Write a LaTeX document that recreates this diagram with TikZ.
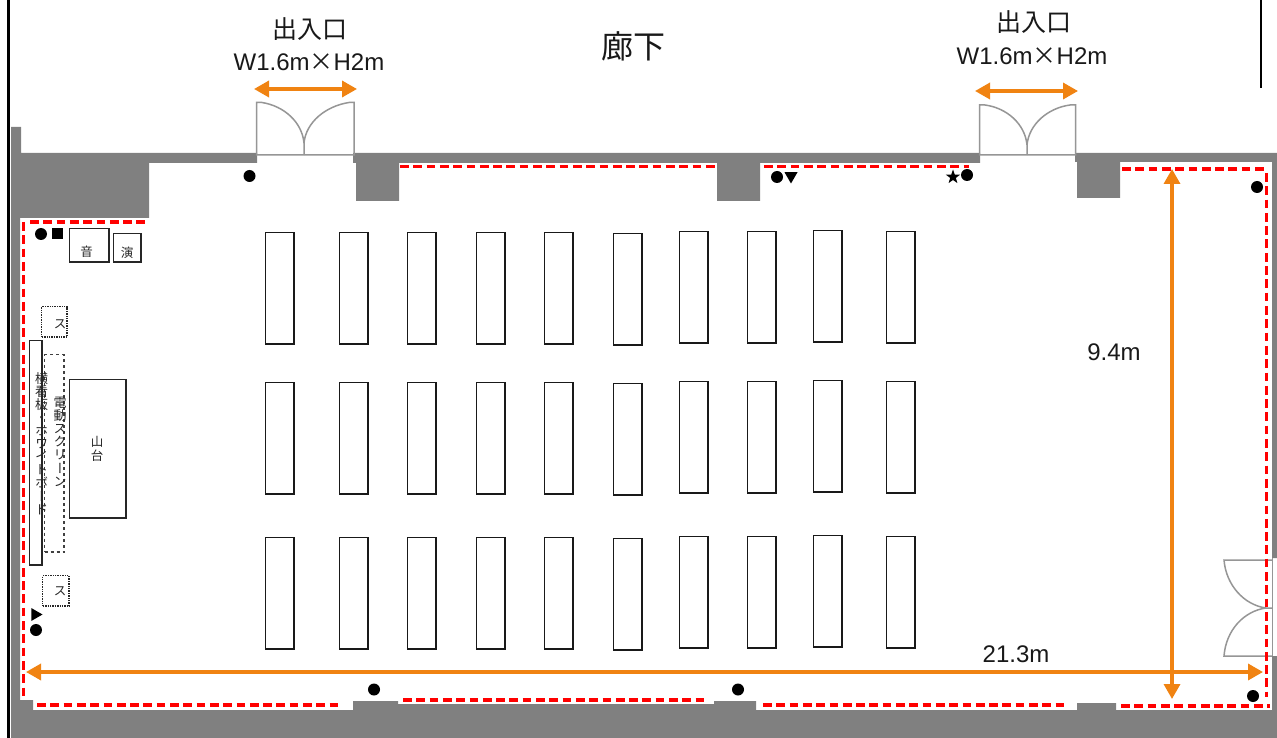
\documentclass[tikz,border=0pt]{standalone}
\usepackage{fontspec}
\setmainfont{Liberation Sans}
\newfontfamily\jpfont{Noto Sans CJK JP}
\newfontfamily\jpvert[RawFeature=+vert]{Noto Sans CJK JP}
\usetikzlibrary{arrows.meta}
\usetikzlibrary{shapes.geometric}
\definecolor{wallgray}{HTML}{808080}
\definecolor{doorgray}{HTML}{969696}
\definecolor{dimorange}{HTML}{F08312}

\begin{document}
\begin{tikzpicture}[x=1pt,y=-1pt,
    >={Triangle[width=16pt,length=15pt]},
    wall/.style = {fill=wallgray, draw=none},
    door/.style = {draw=doorgray, line width=1.5pt},
    outlet/.style = {draw=red, line width=3.4pt, dash pattern=on 8.7pt off 4.6pt},
    dim/.style = {draw=dimorange, line width=3.4pt, <->},
    desk/.style = {rectangle, draw=black!90, line width=1.4pt, fill=white,
                   minimum width=28.4pt, minimum height=111.4pt, inner sep=0pt},
    fitting/.style = {rectangle, draw=black!85, line width=1.4pt, fill=white, inner sep=0pt},
    dim label/.style = {font=\fontsize{24}{29}\selectfont, text=black!90, inner sep=0pt},
    small label/.style = {font=\jpfont\fontsize{12.5}{14}\selectfont, text=black!85, inner sep=0pt, align=center},
    stack label/.style = {font=\jpvert\fontsize{13}{13.1}\selectfont, text=black!85, inner sep=0pt, align=center},
    dot/.style = {circle, fill=black, minimum size=12pt, inner sep=0pt}]
  \useasboundingbox (0,0) rectangle (1277,738);
  \fill[white] (0,0) rectangle (1277,738);

  % walls
  \fill[wall] (11,127) -- (21,127) -- (21,153) -- (257,153) -- (257,163) -- (149,163)
    -- (149,218) -- (20,218) -- (20,700) -- (33,700) -- (33,710) -- (353,710) -- (353,701)
    -- (398,701) -- (398,704) -- (714,704) -- (714,701) -- (756,701) -- (756,710)
    -- (1077,710) -- (1077,703) -- (1116,703) -- (1116,710) -- (1272,710) -- (1272,656)
    -- (1277,656) -- (1277,738) -- (11,738) -- cycle;
  \fill[wall] (353,153) -- (980,153) -- (980,163) -- (760,163) -- (760,201) -- (717,201)
    -- (717,163) -- (399,163) -- (399,201) -- (356,201) -- (356,163) -- (353,163) -- cycle;
  \fill[wall] (1075,153) -- (1277,153) -- (1277,558) -- (1272,558) -- (1272,162)
    -- (1120,162) -- (1120,198) -- (1077,198) -- (1077,162) -- (1075,162) -- cycle;
  \draw[black, line width=2.6pt] (8.5,0) -- (8.5,738);
  \draw[black, line width=2pt] (1261,0) -- (1261,88);

  % doors
  \draw[door] (304,155) -- (256.5,155) -- (256.5,102.5) -- (262,102.5)
    .. controls (284,106) and (302,122) .. (304,143) -- (304,155);
  \draw[door] (304,155) -- (354,155) -- (354,102.5) -- (349,102.5)
    .. controls (326,106) and (306,122) .. (304,143);
  \draw[door] (1027,155) -- (979.5,155) -- (979.5,105) -- (985,105)
    .. controls (1007,108) and (1025,124) .. (1027,145) -- (1027,155);
  \draw[door] (1027,155) -- (1075.5,155) -- (1075.5,105) -- (1070,105)
    .. controls (1048,108) and (1029,124) .. (1027,145);
  \draw[door] (1272,560) -- (1224,560) .. controls (1226,585) and (1244,605) .. (1266,608) -- (1272,608);
  \draw[door] (1272,656) -- (1224,656) .. controls (1226,630) and (1244,611) .. (1266,608);
  \draw[door] (1272.5,558) -- (1272.5,656);

  % desks
  \foreach \row/\ytop in {1/232,2/382,3/537}
    \foreach \col/\xleft/\yoff in {1/265/0,2/339/0,3/407/0,4/476/0,5/544/0,
                                   6/613/1,7/679/-1,8/747/-1,9/813/-2,10/886/-1}
      \node (desk\row-\col) [desk, anchor=north west] at (\xleft,\ytop+\yoff) {};

  % front of the room
  \node (sound) [fitting, minimum width=39.4pt, minimum height=33.4pt, anchor=north west] at (69,228) {};
  \node [small label] at (86.5,252) {音};
  \node (perform) [fitting, minimum width=27.4pt, minimum height=28.4pt, anchor=north west] at (113,233) {};
  \node [small label] at (127,253) {演};
  \node (spkupper) [fitting, densely dotted, minimum width=25.4pt, minimum height=30.4pt, anchor=north west] at (41,306) {};
  \node [small label] at (60,324) {ス};
  \node (spklower) [fitting, densely dotted, minimum width=26.4pt, minimum height=30.4pt, anchor=north west] at (42,575) {};
  \node [small label] at (60,591) {ス};
  \node (board) [fitting, minimum width=12.4pt, minimum height=224.4pt, anchor=north west] at (29,340) {};
  \node (screen) [fitting, dashed, fill=none, draw=black!75, minimum width=19.4pt, minimum height=197.4pt, anchor=north west] at (44,354) {};
  \node (stage) [fitting, minimum width=56.4pt, minimum height=138.4pt, anchor=north west] at (69,379) {};
  \node [stack label, anchor=north] at (41.5,372) {横\\看\\板\\・\\ホ\\ワ\\イ\\ト\\ボ\\ー\\ド};
  \node [stack label, anchor=north] at (60,397) {電\\動\\ス\\ク\\リ\\ー\\ン};
  \node [small label] at (97,449) {山\\台};

  % power outlets
  \draw[outlet] (30,222) -- (146,222);
  \draw[outlet] (23.5,222) -- (23.5,697);
  \draw[outlet] (37,705) -- (341,705);
  \draw[outlet] (403,700) -- (706,700);
  \draw[outlet] (763,705) -- (1066,705);
  \draw[outlet] (1121,706) -- (1270,706);
  \draw[outlet] (400,166.5) -- (716,166.5);
  \draw[outlet] (764,166.5) -- (969,166.5);
  \draw[outlet] (1122,169) -- (1264,169);
  \draw[outlet] (1266.5,173) -- (1266.5,697);

  % marks
  \node (dotA) [dot] at (249.5,176) {};
  \node (dotB) [dot] at (777,177) {};
  \node (dotC) [dot] at (967,175) {};
  \node (dotD) [dot] at (1257,187) {};
  \node (dotE) [dot] at (41,234) {};
  \node (dotF) [dot] at (36,630) {};
  \node (dotG) [dot] at (374,689.5) {};
  \node (dotH) [dot] at (738,689.5) {};
  \node (dotI) [dot] at (1253,696) {};
  \node (square) [rectangle, fill=black, minimum size=11pt, inner sep=0pt] at (57.5,234) {};
  \node (trileft) [regular polygon, regular polygon sides=3, shape border rotate=-90, fill=black,
                   minimum size=15pt, inner sep=0pt] at (35,614.5) {};
  \node (tridown) [regular polygon, regular polygon sides=3, shape border rotate=180, fill=black,
                   minimum size=15pt, inner sep=0pt] at (791,176) {};
  \node (star) [star, star points=5, star point ratio=2.5, fill=black,
                minimum size=15pt, inner sep=0pt] at (953,177) {};

  % dimensions
  \coordinate (doorAl) at (254,89);
  \coordinate (doorAr) at (357,89);
  \coordinate (doorBl) at (975,91);
  \coordinate (doorBr) at (1078,91);
  \coordinate (widthl) at (26,672);
  \coordinate (widthr) at (1263,672);
  \coordinate (deptht) at (1172,169);
  \coordinate (depthb) at (1172,699);
  \draw[dim] (doorAl) -- (doorAr);
  \draw[dim] (doorBl) -- (doorBr);
  \draw[dim] (widthl) -- (widthr);
  \draw[dim] (deptht) -- (depthb);

  % labels
  \node (hall) [dim label, font=\jpfont\fontsize{32}{36}\selectfont] at (633,46) {廊下};
  \node (entryA) [dim label, font=\jpfont\fontsize{25}{29}\selectfont] at (310,29) {出入口};
  \node (sizeA) [dim label] at (309,62) {W1.6m{\jpfont ×}H2m};
  \node (entryB) [dim label, font=\jpfont\fontsize{25}{29}\selectfont] at (1034,22) {出入口};
  \node (sizeB) [dim label] at (1032,56) {W1.6m{\jpfont ×}H2m};
  \node (depth) [dim label] at (1114,352) {9.4m};
  \node (width) [dim label] at (1016,654) {21.3m};
\end{tikzpicture}
\end{document}
